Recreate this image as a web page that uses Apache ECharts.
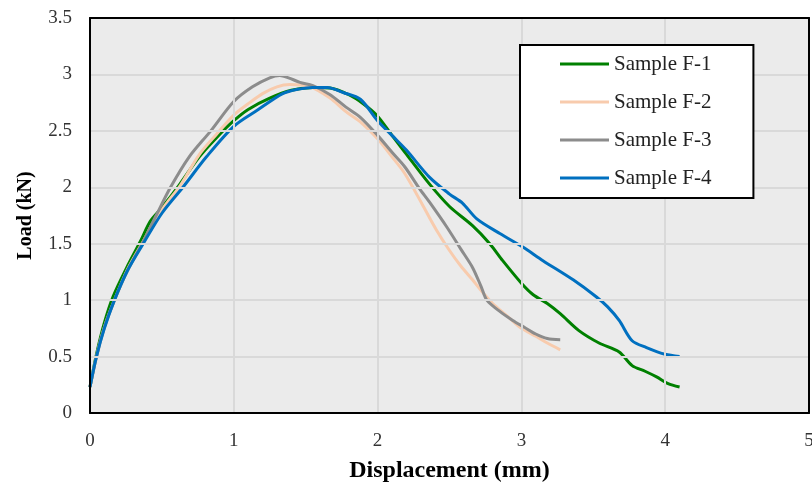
<!DOCTYPE html>
<html>
<head>
<meta charset="utf-8">
<script src="https://cdn.jsdelivr.net/npm/echarts@6/dist/echarts.min.js"></script>
<style>html,body{margin:0;padding:0;background:#fff}#c{width:812px;height:486px}</style>
</head>
<body>
<div id="c"></div>
<script>
const seriesNames = ['Sample F-1', 'Sample F-2', 'Sample F-3', 'Sample F-4'];
const xTicks = [0, 1, 2, 3, 4, 5];
const yTicks = [0, 0.5, 1, 1.5, 2, 2.5, 3, 3.5];

const f1X = [0, 0.045, 0.1, 0.16, 0.26, 0.35, 0.42, 0.5, 0.62, 0.76, 0.88, 1.0, 1.1, 1.25, 1.4, 1.55, 1.67, 1.8, 1.9, 2.0, 2.1, 2.19, 2.36, 2.5, 2.66, 2.78, 2.87, 3.0, 3.08, 3.18, 3.27, 3.4, 3.54, 3.68, 3.77, 3.86, 3.94, 4.02, 4.1];
const f1Y = [0.23, 0.52, 0.8, 1.03, 1.3, 1.52, 1.7, 1.82, 2.02, 2.27, 2.44, 2.59, 2.69, 2.79, 2.86, 2.885, 2.88, 2.82, 2.74, 2.63, 2.46, 2.31, 2.03, 1.83, 1.66, 1.5, 1.35, 1.15, 1.05, 0.97, 0.88, 0.73, 0.62, 0.54, 0.42, 0.37, 0.32, 0.26, 0.23];

const f2X = [0, 0.045, 0.1, 0.17, 0.26, 0.37, 0.5, 0.63, 0.76, 0.88, 1.0, 1.1, 1.2, 1.3, 1.39, 1.53, 1.67, 1.78, 1.88, 2.0, 2.1, 2.19, 2.31, 2.41, 2.5, 2.58, 2.66, 2.73, 2.8, 2.9, 2.99, 3.1, 3.18, 3.27];
const f2Y = [0.23, 0.5, 0.76, 1.0, 1.27, 1.52, 1.8, 2.02, 2.29, 2.47, 2.64, 2.74, 2.83, 2.89, 2.91, 2.89, 2.79, 2.67, 2.58, 2.43, 2.27, 2.12, 1.85, 1.62, 1.44, 1.3, 1.18, 1.07, 0.97, 0.86, 0.76, 0.68, 0.62, 0.56];

const f3X = [0, 0.045, 0.1, 0.17, 0.26, 0.37, 0.46, 0.56, 0.69, 0.84, 1.0, 1.13, 1.25, 1.32, 1.38, 1.46, 1.55, 1.67, 1.78, 1.88, 2.0, 2.1, 2.19, 2.29, 2.36, 2.48, 2.58, 2.66, 2.72, 2.76, 2.85, 2.94, 3.02, 3.1, 3.18, 3.27];
const f3Y = [0.23, 0.5, 0.76, 1.0, 1.26, 1.52, 1.75, 2.0, 2.27, 2.5, 2.76, 2.89, 2.97, 2.99, 2.97, 2.93, 2.9, 2.82, 2.71, 2.62, 2.46, 2.31, 2.18, 1.99, 1.87, 1.65, 1.45, 1.29, 1.12, 1.0, 0.9, 0.82, 0.76, 0.7, 0.66, 0.65];

const f4X = [0, 0.045, 0.1, 0.17, 0.26, 0.37, 0.5, 0.646, 0.81, 1.0, 1.16, 1.34, 1.45, 1.55, 1.65, 1.76, 1.88, 2.0, 2.1, 2.2, 2.36, 2.5, 2.59, 2.69, 2.85, 3.01, 3.15, 3.36, 3.52, 3.6, 3.68, 3.77, 3.87, 4.0, 4.1];
const f4Y = [0.23, 0.5, 0.75, 1.0, 1.26, 1.5, 1.77, 2.0, 2.27, 2.54, 2.68, 2.83, 2.87, 2.885, 2.885, 2.84, 2.78, 2.59, 2.46, 2.33, 2.09, 1.94, 1.86, 1.72, 1.59, 1.47, 1.35, 1.18, 1.03, 0.94, 0.82, 0.64, 0.58, 0.52, 0.5];

const colors = ['#008000', '#F8CBAD', '#8C8C8C', '#0070C0'];
const xs = [f1X, f2X, f3X, f4X];
const ys = [f1Y, f2Y, f3Y, f4Y];

const serif = '"Liberation Serif", "Times New Roman", serif';
const gridLine = { show: true, lineStyle: { color: '#D9D9D9', width: 2 } };
const border = { show: true, onZero: false, lineStyle: { color: '#000', width: 2 } };
const chart = echarts.init(document.getElementById('c'));
chart.setOption({
  animation: false,
  backgroundColor: '#ffffff',
  grid: {
    left: 90, top: 18, right: 3, bottom: 73,
    show: true, backgroundColor: '#EBEBEB', borderWidth: 0,
    containLabel: false, outerBoundsMode: 'none'
  },
  legend: {
    orient: 'vertical',
    left: 520, top: 45,
    backgroundColor: '#fff', borderColor: '#000', borderWidth: 2, borderRadius: 0,
    padding: [8, 42, 9, 40],
    itemGap: 16,
    itemWidth: 49, itemHeight: 3,
    icon: 'rect',
    textStyle: { fontFamily: serif, fontSize: 21, color: '#222', lineHeight: 22 },
    data: seriesNames
  },
  xAxis: [{
    type: 'value', min: xTicks[0], max: xTicks[xTicks.length - 1], interval: 1,
    name: 'Displacement (mm)', nameLocation: 'middle', nameGap: 46,
    nameTextStyle: { fontFamily: serif, fontSize: 24, fontWeight: 'bold', color: '#000' },
    axisLine: border, axisTick: { show: false },
    axisLabel: { fontFamily: serif, fontSize: 19, color: '#333', margin: 19 },
    splitLine: gridLine, z: 3
  }, {
    type: 'value', position: 'top', min: xTicks[0], max: xTicks[xTicks.length - 1], interval: 1,
    axisLine: border, axisTick: { show: false }, axisLabel: { show: false }, splitLine: { show: false }, z: 3
  }],
  yAxis: [{
    type: 'value', min: yTicks[0], max: yTicks[yTicks.length - 1], interval: 0.5,
    name: 'Load (kN)', nameLocation: 'middle', nameGap: 54, nameRotate: 90,
    nameTextStyle: { fontFamily: serif, fontSize: 20, fontWeight: 'bold', color: '#000' },
    axisLine: border, axisTick: { show: false },
    axisLabel: { fontFamily: serif, fontSize: 19, color: '#333', margin: 18 },
    splitLine: gridLine, z: 3
  }, {
    type: 'value', position: 'right', min: yTicks[0], max: yTicks[yTicks.length - 1], interval: 0.5,
    axisLine: border, axisTick: { show: false }, axisLabel: { show: false }, splitLine: { show: false }, z: 3
  }],
  series: seriesNames.map((n, i) => ({
    name: n, type: 'line', smooth: 0.3, symbol: 'none', z: 2,
    lineStyle: { color: colors[i], width: 3 },
    itemStyle: { color: colors[i] },
    data: xs[i].map((x, k) => [x, ys[i][k]])
  }))
});
</script>
</body>
</html>
